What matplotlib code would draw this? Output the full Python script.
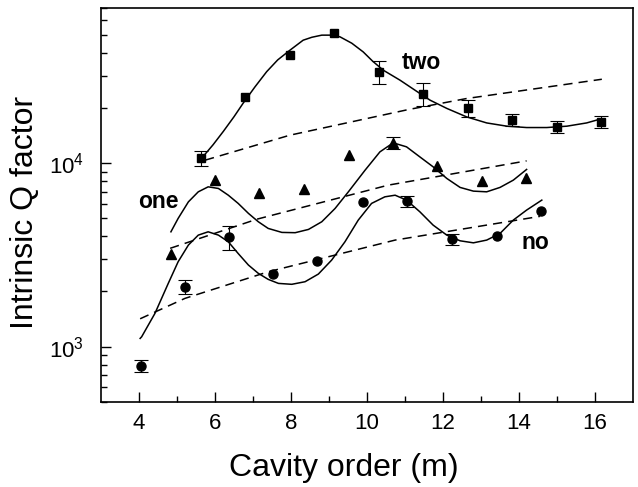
import numpy as np
import matplotlib
matplotlib.use('Agg')
import matplotlib.pyplot as plt
from matplotlib.ticker import LogLocator, FixedLocator, NullFormatter

plt.rcParams['font.family'] = ['Liberation Sans', 'DejaVu Sans']
plt.rcParams['mathtext.fontset'] = 'custom'
plt.rcParams['mathtext.rm'] = 'Liberation Sans'
plt.rcParams['mathtext.default'] = 'regular'

# measured points (nan = no visible error bar)
two_x = [5.63, 6.80, 7.97, 9.13, 10.31, 11.48, 12.65, 13.82, 14.99, 16.17]
two_y = [10690, 22960, 38700, 51200, 31400, 23760, 20000, 17140, 15770, 16780]
two_err = [1000, np.nan, np.nan, np.nan, 4500, 3400, 2200, 1300, 1200, 1250]

one_x = [4.84, 6.00, 7.17, 8.33, 9.52, 10.69, 11.84, 13.02, 14.19]
one_y = [3186, 8080, 6920, 7220, 11050, 12900, 9670, 7980, 8260]
one_err = [np.nan, np.nan, np.nan, np.nan, np.nan, 1000, np.nan, np.nan, np.nan]

no_x = [4.05, 5.22, 6.38, 7.53, 8.68, 9.90, 11.06, 12.24, 13.41, 14.57]
no_y = [788, 2120, 3955, 2475, 2930, 6160, 6210, 3855, 4035, 5480]
no_err = [60, 190, 600, np.nan, np.nan, np.nan, 430, 270, np.nan, np.nan]

# solid fitted curves
two_fit_x = [5.65, 5.95, 6.22, 6.50, 6.74, 7.05, 7.36, 7.65, 7.97, 8.32, 8.55, 8.81,
             9.05, 9.29, 9.60, 9.90, 10.15, 10.43, 10.87, 11.48, 11.66, 12.10, 12.62,
             13.15, 13.68, 14.20, 14.73, 15.26, 15.78, 16.13]
two_fit_y = [10640, 12600, 14900, 17900, 21200, 26000, 31500, 36500, 41200, 46750,
             48500, 49800, 49800, 48750, 45000, 40360, 35900, 32070, 28300, 23300,
             22030, 19870, 17870, 16560, 15900, 15630, 15630, 15900, 16560, 17360]

one_fit_x = [4.84, 5.03, 5.30, 5.56, 5.82, 6.09, 6.35, 6.61, 6.88, 7.14, 7.40, 7.76,
             8.11, 8.46, 8.81, 9.16, 9.51, 9.95, 10.34, 10.69, 11.04, 11.39, 11.74,
             12.10, 12.45, 12.80, 13.15, 13.50, 13.85, 14.20]
one_fit_y = [4227, 5000, 6155, 6980, 7430, 7280, 6690, 6035, 5325, 4795, 4410, 4195,
             4180, 4355, 4795, 5665, 6980, 9160, 11520, 12900, 12270, 10820, 9550,
             8255, 7375, 7040, 6980, 7375, 8080, 9240]

no_fit_x = [4.03, 4.07, 4.42, 4.77, 5.03, 5.30, 5.56, 5.82, 6.09, 6.35, 6.61, 6.88,
            7.14, 7.40, 7.67, 8.02, 8.37, 8.72, 9.07, 9.42, 9.77, 10.12, 10.47, 10.74,
            11.04, 11.39, 11.74, 12.10, 12.45, 12.80, 13.15, 13.50, 13.85, 14.20, 14.60]
no_fit_y = [1110, 1133, 1520, 2213, 2904, 3580, 4055, 4227, 4055, 3730, 3220, 2785,
            2510, 2328, 2213, 2188, 2260, 2488, 2965, 3730, 4896, 6035, 6555, 6690,
            6290, 5435, 4597, 4055, 3776, 3681, 3810, 4140, 4896, 5550, 6290]

# dashed lines
two_dash_x = [5.74, 7.97, 11.09, 12.62, 16.18]
two_dash_y = [10380, 14200, 19590, 22490, 28640]
one_dash_x = [4.82, 7.10, 10.56, 14.20]
one_dash_y = [3436, 4950, 7590, 10290]
no_dash_x = [4.03, 5.21, 7.40, 10.74, 14.55]
no_dash_y = [1420, 1834, 2560, 3810, 5130]

labels = ['two', 'one', 'no']
label_x = [11.42, 4.5, 14.42]
label_y = [35500, 6210, 3715]

fig = plt.figure(figsize=(6.38, 4.87), dpi=100)
ax = fig.add_axes([101 / 638, 1 - 402 / 487, 532 / 638, 394 / 487])
ax.set_yscale('log')
ax.set_xlim(3, 17)
ax.set_ylim(500, 70000)

for fx, fy in [(two_fit_x, two_fit_y), (one_fit_x, one_fit_y), (no_fit_x, no_fit_y)]:
    ax.plot(fx, fy, c='k', lw=1.1, solid_joinstyle='round')
for dx, dy in [(two_dash_x, two_dash_y), (one_dash_x, one_dash_y), (no_dash_x, no_dash_y)]:
    ax.plot(dx, dy, c='k', lw=1.1, ls=(0, (6, 4)))

series = [(two_x, two_y, two_err, 's', 6.0),
          (one_x, one_y, one_err, '^', 6.5),
          (no_x, no_y, no_err, 'o', 6.5)]
for sx, sy, se, mk, ms in series:
    sx, sy, se = np.array(sx), np.array(sy), np.array(se, dtype=float)
    m = ~np.isnan(se)
    ax.errorbar(sx[m], sy[m], yerr=se[m], ls='None', c='k', lw=0.8, capsize=5, capthick=0.8)
    ax.plot(sx, sy, ls='None', marker=mk, ms=ms, c='k')

for t, tx, ty in zip(labels, label_x, label_y):
    ax.text(tx, ty, t, fontsize=16.5, fontweight='bold', ha='center', va='center')

ax.xaxis.set_major_locator(FixedLocator([4, 6, 8, 10, 12, 14, 16]))
ax.xaxis.set_minor_locator(FixedLocator([5, 7, 9, 11, 13, 15]))
ax.yaxis.set_major_locator(LogLocator(base=10, numticks=10))
ax.yaxis.set_minor_locator(LogLocator(base=10, subs=np.arange(2, 10), numticks=20))
ax.yaxis.set_minor_formatter(NullFormatter())
ax.tick_params(which='both', direction='in', width=1, labelsize=16)
ax.tick_params(which='major', length=7)
ax.tick_params(which='minor', length=4)
ax.tick_params(axis='x', pad=8)
ax.tick_params(axis='y', pad=12)
for s in ax.spines.values():
    s.set_linewidth(1.2)

fig.text(25.5 / 638, 1 - 212.5 / 487, 'Intrinsic Q factor', fontsize=23,
         rotation=90, ha='center', va='center')
fig.text(344 / 638, 1 - 468 / 487, 'Cavity order (m)', fontsize=23, ha='center', va='center')

fig.savefig('out.png', dpi=100)
